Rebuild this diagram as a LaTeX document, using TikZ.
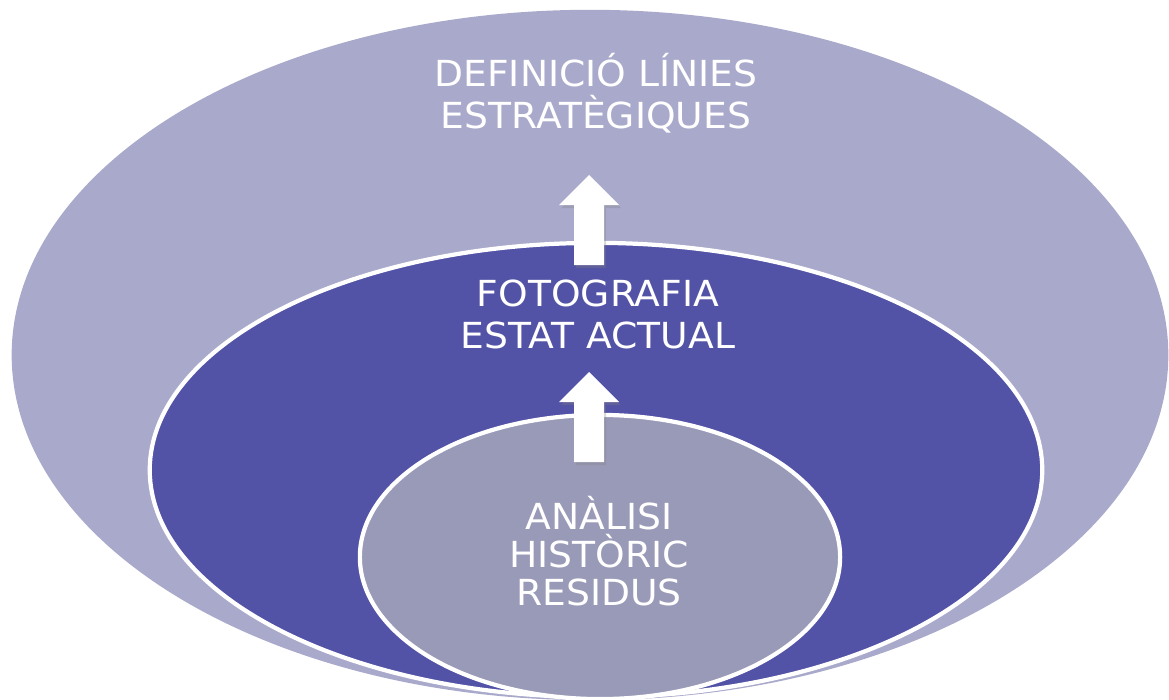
\documentclass[tikz,border=0pt]{standalone}
\usepackage{fontspec}
\setmainfont{DejaVu Sans}[FakeStretch=1.05]
\usetikzlibrary{shapes.geometric,shadows}

\definecolor{outerlila}{RGB}{169,169,203}
\definecolor{midblau}{RGB}{82,82,166}
\definecolor{innergris}{RGB}{153,153,184}

\tikzset{
  anella/.style={ellipse, inner sep=0pt, outer sep=0pt},
  rotul/.style={text=white, align=center, inner sep=0pt, anchor=base},
  fletxa/.style={fill=white, drop shadow={shadow xshift=0.6pt, shadow yshift=-0.9pt, opacity=0.3}}
}

% block arrow, tip at the given coordinate
\newcommand{\fletxablanca}[1]{%
  \fill[fletxa] (#1) -- ++(30,30) -- ++(-15,0) -- ++(0,60) -- ++(-30,0)
    -- ++(0,-60) -- ++(-15,0) -- cycle;
}

\begin{document}
\begin{tikzpicture}[x=0.01cm, y=-0.01cm]
    \useasboundingbox (0,0) rectangle (1169,700);
    \clip (0,0) rectangle (1169,700);

    \node[anella, fill=outerlila, minimum width=11.56cm, minimum height=6.9cm] (exterior) at (590,355) {};
    \node[anella, fill=midblau, draw=white, line width=1.2pt, minimum width=8.92cm, minimum height=4.54cm] (mig) at (596,470) {};
    \node[anella, fill=innergris, draw=white, line width=1.2pt, minimum width=4.8cm, minimum height=2.84cm] (interior) at (600,557) {};

    \coordinate (puntasup) at (589,175);
    \coordinate (puntainf) at (589,372);
    \fletxablanca{puntasup}
    \fletxablanca{puntainf}

    % base anchor sits on the last line
    \node[rotul, font=\fontsize{10.2}{11.7}\selectfont] (linies) at (596,128)
        {DEFINICIÓ LÍNIES\\ESTRATÈGIQUES};
    \node[rotul, font=\fontsize{10.2}{11.7}\selectfont] (foto) at (598,348)
        {FOTOGRAFIA\\ESTAT ACTUAL};
    \node[rotul, font=\fontsize{10.2}{10.7}\selectfont] (historic) at (599,605)
        {ANÀLISI\\HISTÒRIC\\RESIDUS};
\end{tikzpicture}
\end{document}
